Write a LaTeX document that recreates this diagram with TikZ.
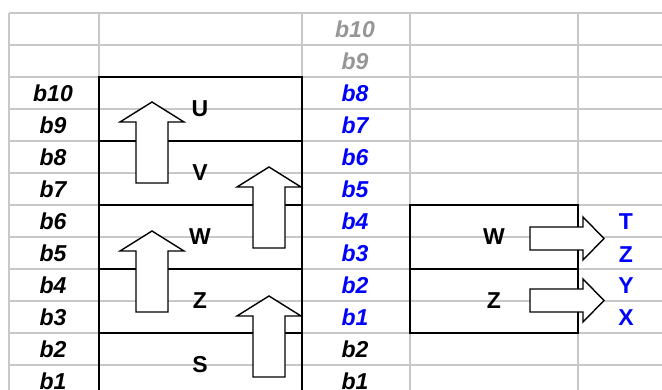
\documentclass[tikz,border=0pt]{standalone}
\usepackage{fontspec}
\setmainfont{Liberation Sans}
\definecolor{gridGray}{RGB}{200,200,200}
\definecolor{dimGray}{RGB}{150,150,150}
\definecolor{bitBlue}{RGB}{0,0,255}
\tikzstyle{gridLine}=[draw=gridGray, line width=1.5pt]
\tikzstyle{regBox}=[draw=black, line width=1.6pt]
\tikzstyle{blockArrow}=[draw=black, fill=white, line width=1.4pt, line join=miter]
\tikzstyle{bit}=[font=\fontsize{23}{26}\selectfont\bfseries\itshape, inner sep=0pt]
\tikzstyle{reg}=[font=\fontsize{23}{26}\selectfont\bfseries, inner sep=0pt]

\begin{document}
\begin{tikzpicture}[x=1pt, y=-1pt]
  \useasboundingbox (0,0) rectangle (662,390);
  \clip (0,0) rectangle (662,390);

  % sheet grid
  \foreach \r in {0,...,11}
    \draw[gridLine] (9,13+32*\r) -- (662,13+32*\r);
  \foreach \c in {9,99,302,410,578}
    \draw[gridLine] (\c,13) -- (\c,390);

  % bit columns
  \foreach \b [count=\r from 2] in {10,9,...,1}
    \node[bit] (left\b) at (53,29+32*\r) {b\b};
  \foreach \b [count=\r from 0] in {10,9}
    \node[bit, text=dimGray] (top\b) at (355,29+32*\r) {b\b};
  \foreach \b [count=\r from 2] in {8,7,...,1}
    \node[bit, text=bitBlue] (mid\b) at (355,29+32*\r) {b\b};
  \foreach \b [count=\r from 10] in {2,1}
    \node[bit] (low\b) at (355,29+32*\r) {b\b};

  % registers
  \draw[regBox] (99,77) rectangle (302,397);
  \foreach \y in {141,205,269,333}
    \draw[regBox] (99,\y) -- (302,\y);
  \draw[regBox] (410,205) rectangle (578,333);
  \draw[regBox] (410,269) -- (578,269);

  % shift arrows
  \foreach \x/\y in {152/102, 152/231, 269/167, 269/296}
    \filldraw[blockArrow] (\x,\y) -- ++(32,20) -- ++(-16,0) -- ++(0,61)
      -- ++(-32,0) -- ++(0,-61) -- ++(-16,0) -- cycle;
  \foreach \y in {238.5, 300.5}
    \filldraw[blockArrow] (530,\y) ++(0,-11.5) -- ++(53,0) -- ++(0,-10)
      -- ++(21,21.5) -- ++(-21,21.5) -- ++(0,-10) -- ++(-53,0) -- cycle;

  % register names
  \foreach \n [count=\r from 0] in {U,V,W,Z,S}
    \node[reg] (reg\n) at (200,109+64*\r) {\n};
  \node[reg] (outW) at (494,237) {W};
  \node[reg] (outZ) at (494,301) {Z};
  \foreach \n/\y in {T/222,Z/255,Y/286,X/318}
    \node[reg, text=bitBlue] (res\n) at (626,\y) {\n};
\end{tikzpicture}
\end{document}
